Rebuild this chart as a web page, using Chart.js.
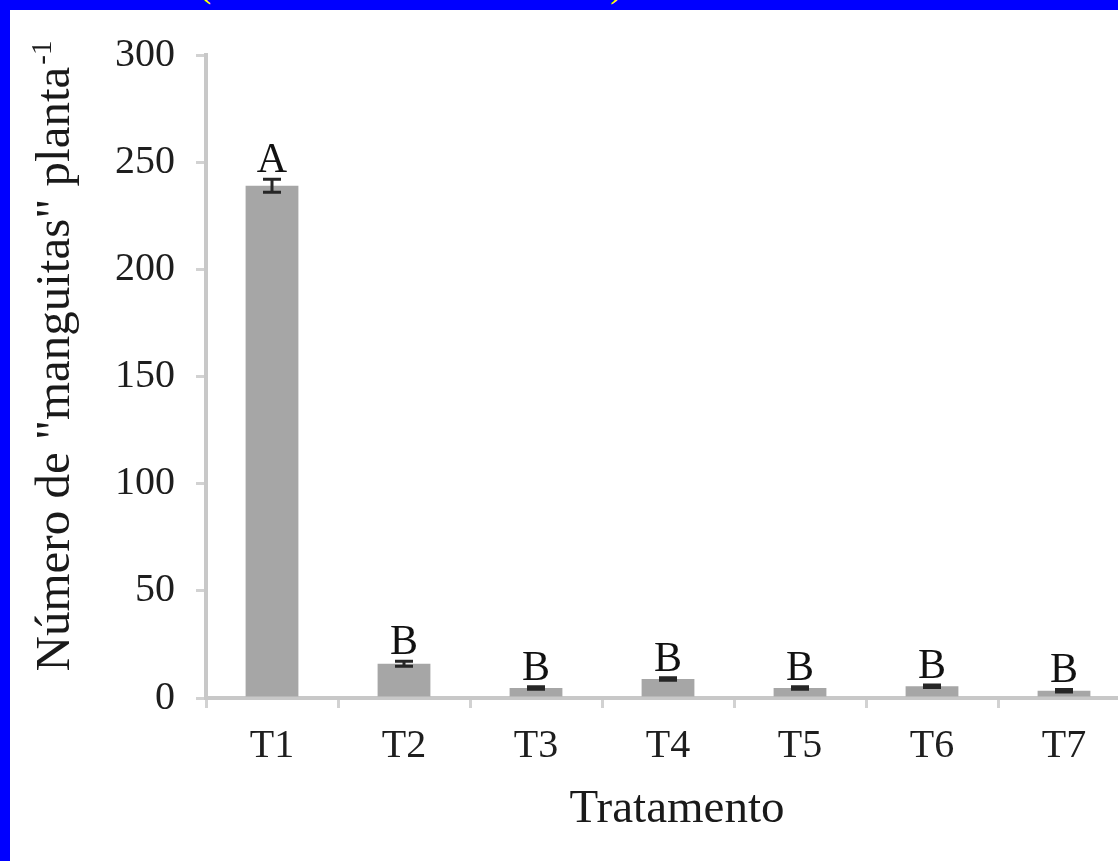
<!DOCTYPE html>
<html>
<head>
<meta charset="utf-8">
<script src="https://cdn.jsdelivr.net/npm/chart.js@4/dist/chart.umd.min.js"></script>
<style>
  html, body { margin: 0; padding: 0; }
  body { width: 1118px; height: 861px; overflow: hidden; background: #0000ff; position: relative; }
  #panel { position: absolute; left: 10px; top: 10px; width: 1130px; height: 851px; background: #ffffff; }
  .cap { position: absolute; top: -37px; font-family: "Liberation Serif", serif; font-size: 40px; line-height: 40px; color: #ffff00; }
</style>
</head>
<body>
<span class="cap" style="left:198px">(</span>
<span class="cap" style="left:610px">)</span>
<div id="panel"><canvas id="c" width="1130" height="851"></canvas></div>
<script>
// Tratamentos e médias de "manguitas" por planta
const categories = ['T1', 'T2', 'T3', 'T4', 'T5', 'T6', 'T7'];
const means = [239, 16, 4.7, 8.9, 4.7, 5.5, 3.4];
const errors = [3, 1.2, 0.6, 0.6, 0.6, 0.6, 0.6];
const letters = ['A', 'B', 'B', 'B', 'B', 'B', 'B'];
const yTickValues = [0, 50, 100, 150, 200, 250, 300];

const SERIF = '"Liberation Serif", "Times New Roman", serif';

// Error bars and significance letters drawn from the bar scale positions
const errorBarPlugin = {
  id: 'errorBars',
  afterDatasetsDraw(chart) {
    const ctx = chart.ctx;
    const y = chart.scales.y;
    const meta = chart.getDatasetMeta(0);
    ctx.save();
    meta.data.forEach((bar, i) => {
      const x = bar.x;
      const top = y.getPixelForValue(means[i] + errors[i]);
      const bot = y.getPixelForValue(means[i] - errors[i]);
      ctx.strokeStyle = '#262626';
      ctx.lineWidth = 3;
      ctx.beginPath();
      ctx.moveTo(x, top); ctx.lineTo(x, bot);
      ctx.moveTo(x - 9, top); ctx.lineTo(x + 9, top);
      ctx.moveTo(x - 9, bot); ctx.lineTo(x + 9, bot);
      ctx.stroke();
      ctx.fillStyle = '#111111';
      ctx.font = '42px ' + SERIF;
      ctx.textAlign = 'center';
      ctx.textBaseline = 'alphabetic';
      ctx.fillText(letters[i], x, top - 7);
    });
    ctx.restore();
  }
};

// Axis titles (the vertical one carries a superscript)
const titlePlugin = {
  id: 'axisTitles',
  afterDraw(chart) {
    const ctx = chart.ctx;
    ctx.save();
    ctx.fillStyle = '#1a1a1a';
    ctx.textBaseline = 'alphabetic';
    // horizontal title
    ctx.font = '47px ' + SERIF;
    ctx.textAlign = 'center';
    ctx.fillText('Tratamento', 667, 812);
    // vertical title
    const main = 'Número de "manguitas" planta';
    const sup = '-1';
    ctx.font = '49px ' + SERIF;
    const wMain = ctx.measureText(main).width;
    ctx.font = '29px ' + SERIF;
    const wSup = ctx.measureText(sup).width;
    const total = wMain + wSup + 2;
    ctx.translate(59, 346);
    ctx.rotate(-Math.PI / 2);
    ctx.textAlign = 'left';
    ctx.font = '49px ' + SERIF;
    ctx.fillText(main, -total / 2, 0);
    ctx.font = '29px ' + SERIF;
    ctx.fillText(sup, -total / 2 + wMain + 2, -18);
    ctx.restore();
  }
};

new Chart(document.getElementById('c'), {
  type: 'bar',
  data: {
    labels: categories,
    datasets: [{
      data: means,
      backgroundColor: '#a6a6a6',
      borderWidth: 0,
      categoryPercentage: 1,
      barPercentage: 0.4
    }]
  },
  options: {
    responsive: false,
    animation: false,
    devicePixelRatio: 1,
    layout: { padding: { top: 45, right: 10, left: 0, bottom: 0 } },
    plugins: { legend: { display: false }, tooltip: { enabled: false } },
    scales: {
      x: {
        afterFit: s => { s.height = 163; },
        grid: {
          display: true, offset: true, drawOnChartArea: false, drawTicks: true,
          tickLength: 10, color: '#d2d2d2', lineWidth: 3
        },
        border: { display: true, color: '#c8c8c8', width: 4 },
        ticks: { color: '#1e1e1e', padding: 14, font: { family: SERIF, size: 40 } }
      },
      y: {
        min: 0, max: 300,
        afterFit: s => { s.width = 196; },
        afterBuildTicks: s => { s.ticks = yTickValues.map(v => ({ value: v })); },
        grid: {
          display: true, drawOnChartArea: false, drawTicks: true,
          tickLength: 10, color: '#d2d2d2', lineWidth: 3
        },
        border: { display: true, color: '#c8c8c8', width: 4 },
        ticks: { color: '#1e1e1e', padding: 21, font: { family: SERIF, size: 40 } }
      }
    }
  },
  plugins: [errorBarPlugin, titlePlugin]
});
</script>
</body>
</html>
